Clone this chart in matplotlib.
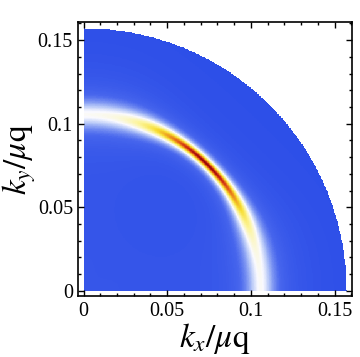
import numpy as np
import matplotlib
matplotlib.use("Agg")
import matplotlib.pyplot as plt
from matplotlib.colors import LinearSegmentedColormap
from matplotlib.ticker import MultipleLocator

plt.rcParams['font.family'] = ['Liberation Serif', 'DejaVu Serif']
plt.rcParams['mathtext.fontset'] = 'stix'

# --- values ---
disk_radius = 0.157          # outer edge of the plotted quarter disk
ring_radius = 0.1055         # radius of the bright ring
peak_angle_deg = 46.5        # direction of the red maximum
peak_spread_deg = 13.0       # angular spread of the bright part
edge_height = 0.25           # relative ring height along the axes
gamma_min = 0.0018           # ring half-width at the maximum
background_level = 0.025
xticks = [0, 0.05, 0.1, 0.15]
xtick_labels = ['0', '0.05', '0.1', '0.15']
yticks = [0, 0.05, 0.1, 0.15]
ytick_labels = ['0', '0.05', '0.1', '0.15']
x_label = r'$k_x/\mu\mathrm{q}$'
y_label = r'$k_y/\mu\mathrm{q}$'

# spectral-function-like density on the quarter disk
n = 420
kx = np.linspace(0, disk_radius, n)
ky = np.linspace(0, disk_radius, n)
KX, KY = np.meshgrid(kx, ky)
R = np.hypot(KX, KY)
TH = np.degrees(np.arctan2(KY, KX))
H = edge_height + (1 - edge_height) * np.exp(-(TH - peak_angle_deg) ** 2 / (2 * peak_spread_deg ** 2))
gamma = gamma_min / H
A = gamma_min * gamma / ((R - ring_radius) ** 2 + gamma ** 2)
A = A + background_level * (1 - R / disk_radius)
A = np.where(R <= disk_radius, A, np.nan)

cmap = LinearSegmentedColormap.from_list('temp', [
    (0.00, (0.18, 0.31, 0.91)),
    (0.07, (0.28, 0.40, 0.93)),
    (0.17, (0.70, 0.77, 0.97)),
    (0.25, (0.98, 0.98, 1.00)),
    (0.36, (0.99, 0.96, 0.62)),
    (0.50, (0.97, 0.87, 0.20)),
    (0.72, (0.91, 0.47, 0.10)),
    (0.88, (0.80, 0.16, 0.08)),
    (1.00, (0.58, 0.04, 0.03)),
])
cmap.set_bad((1, 1, 1, 0))

fig = plt.figure(figsize=(3.6, 3.57), dpi=100)
ax = fig.add_axes([0.218, 0.171, 0.760, 0.766])
ax.imshow(A, origin='lower', extent=[0, disk_radius, 0, disk_radius],
          cmap=cmap, vmin=0, vmax=1.0, interpolation='nearest', aspect='auto')
ax.set_xlim(-0.003, 0.1605)
ax.set_ylim(-0.003, 0.1605)
ax.set_xticks(xticks)
ax.set_xticklabels(xtick_labels)
ax.set_yticks(yticks)
ax.set_yticklabels(ytick_labels)
ax.xaxis.set_minor_locator(MultipleLocator(0.01))
ax.yaxis.set_minor_locator(MultipleLocator(0.01))
ax.tick_params(which='both', direction='in', top=True, right=True, labelsize=14.5, width=1)
ax.tick_params(which='major', length=4.5, pad=4)
ax.tick_params(which='minor', length=2.5)
for s in ax.spines.values():
    s.set_linewidth(1.2)
ax.set_xlabel(x_label, fontsize=24, labelpad=0)
ax.set_ylabel(y_label, fontsize=24, labelpad=0)
fig.savefig('out.png', dpi=100)
